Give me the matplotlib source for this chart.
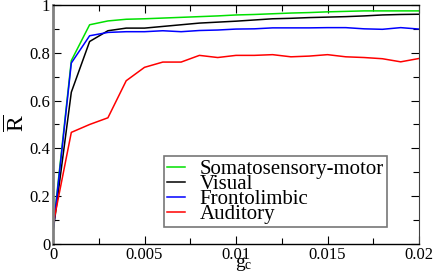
import numpy as np
import matplotlib
matplotlib.use("Agg")
import matplotlib.pyplot as plt
from matplotlib.ticker import MultipleLocator, FixedFormatter, FixedLocator

plt.rcParams['font.family'] = 'serif'
plt.rcParams['font.serif'] = ['Liberation Serif', 'DejaVu Serif']
plt.rcParams['mathtext.fontset'] = 'custom'
plt.rcParams['mathtext.rm'] = 'Liberation Serif'
plt.rcParams['mathtext.it'] = 'Liberation Serif:italic'

# coupling strength g_c, steps of 0.001
gc = [i * 0.001 for i in range(21)]

somato = [0.06, 0.767, 0.917, 0.933, 0.940, 0.942, 0.945, 0.948, 0.951, 0.954,
          0.958, 0.960, 0.963, 0.966, 0.968, 0.971, 0.973, 0.975, 0.975, 0.975, 0.975]
visual = [0.05, 0.635, 0.847, 0.892, 0.903, 0.903, 0.910, 0.917, 0.924, 0.928,
          0.932, 0.937, 0.942, 0.944, 0.947, 0.949, 0.951, 0.954, 0.958, 0.960, 0.961]
fronto = [0.05, 0.757, 0.871, 0.885, 0.888, 0.888, 0.892, 0.888, 0.893, 0.895,
          0.899, 0.900, 0.904, 0.904, 0.904, 0.905, 0.905, 0.900, 0.898, 0.905, 0.899]
audit = [0.08, 0.467, 0.500, 0.528, 0.683, 0.739, 0.761, 0.761, 0.789, 0.780,
         0.789, 0.789, 0.792, 0.783, 0.786, 0.792, 0.783, 0.780, 0.775, 0.762, 0.776]

labels = ['Somatosensory-motor', 'Visual', 'Frontolimbic', 'Auditory']
colors = ['#00e000', 'black', '#0000ff', '#ff0000']

fig = plt.figure(figsize=(4.36, 2.73), dpi=100)
ax = fig.add_axes([0.1216, 0.106, 0.8394, 0.876])

for ys, lab, col in zip([somato, visual, fronto, audit], labels, colors):
    ax.plot(gc, ys, color=col, lw=1.1, label=lab)

ax.set_xlim(0, 0.02)
ax.set_ylim(0, 1)
ax.xaxis.set_major_locator(FixedLocator([0, 0.005, 0.01, 0.015, 0.02]))
ax.xaxis.set_major_formatter(FixedFormatter(['0', '0.005', '0.01', '0.015', '0.02']))
ax.xaxis.set_minor_locator(MultipleLocator(0.0025))
ax.yaxis.set_major_locator(FixedLocator([0, 0.2, 0.4, 0.6, 0.8, 1.0]))
ax.yaxis.set_major_formatter(FixedFormatter(['0', '0.2', '0.4', '0.6', '0.8', '1']))
ax.yaxis.set_minor_locator(MultipleLocator(0.1))

ax.tick_params(which='both', direction='in', top=True, right=True, labelsize=12, pad=2)
ax.tick_params(which='major', length=6, width=0.8)
ax.tick_params(which='minor', length=4, width=0.8)

ax.spines['left'].set_color('#808080')
ax.spines['left'].set_linewidth(2)
ax.spines['right'].set_color('#404040')
for s in ['top', 'bottom']:
    ax.spines[s].set_linewidth(1)

# axis labels placed by hand, as in the reference
fig.text(17 / 436, 1 - 123 / 273, r'$\overline{\mathrm{R}}$', rotation=90,
         ha='center', va='center', fontsize=17)
fig.text(244 / 436, 1 - 264 / 273, r'$\mathrm{g}_\mathrm{c}$',
         ha='center', va='center', fontsize=14)

leg = ax.legend(loc='lower left', bbox_to_anchor=(0.303, 0.071), borderaxespad=0,
                fontsize=15, frameon=True, fancybox=False, handlelength=0.85,
                handletextpad=0.7, labelspacing=-0.22, borderpad=0.15)
leg.get_frame().set_edgecolor('#555555')
leg.get_frame().set_linewidth(1.2)

fig.savefig('out.png', dpi=100)
